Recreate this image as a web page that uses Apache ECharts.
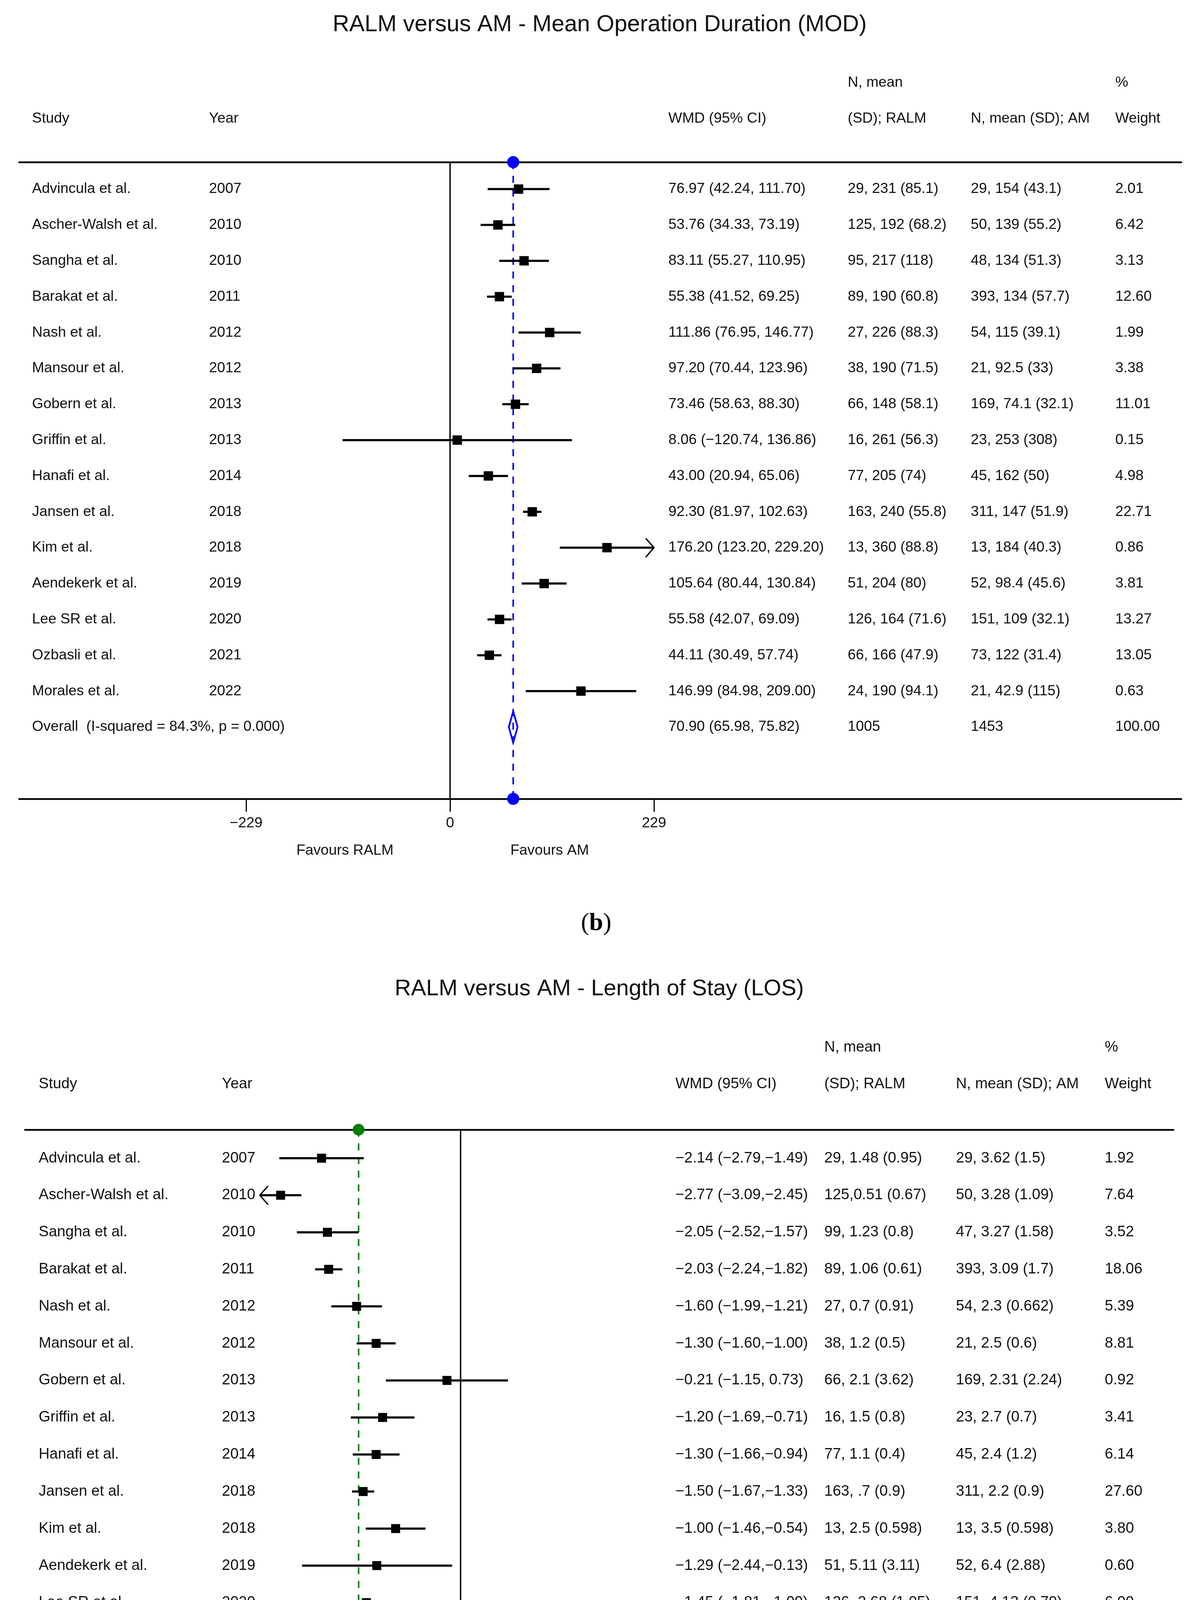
<!DOCTYPE html>
<html><head><meta charset="utf-8">
<script src="https://cdn.jsdelivr.net/npm/echarts@6/dist/echarts.min.js"></script>
<style>html,body{margin:0;padding:0;background:#fff}#c{width:3059px;height:4879px}</style>
</head><body><div id="c"></div>
<script>
// ---------- Panel (b): Mean Operation Duration ----------
const studiesB = ["Advincula et al.","Ascher-Walsh et al.","Sangha et al.","Barakat et al.","Nash et al.","Mansour et al.","Gobern et al.","Griffin et al.","Hanafi et al.","Jansen et al.","Kim et al.","Aendekerk et al.","Lee SR et al.","Ozbasli et al.","Morales et al."];
const yearsB = ["2007","2010","2010","2011","2012","2012","2013","2013","2014","2018","2018","2019","2020","2021","2022"];
const wmdB = [76.97,53.76,83.11,55.38,111.86,97.20,73.46,8.06,43.00,92.30,176.20,105.64,55.58,44.11,146.99];
const loB  = [42.24,34.33,55.27,41.52,76.95,70.44,58.63,-120.74,20.94,81.97,123.20,80.44,42.07,30.49,84.98];
const hiB  = [111.70,73.19,110.95,69.25,146.77,123.96,88.30,136.86,65.06,102.63,229.20,130.84,69.09,57.74,209.00];
const ralmB = ["29, 231 (85.1)","125, 192 (68.2)","95, 217 (118)","89, 190 (60.8)","27, 226 (88.3)","38, 190 (71.5)","66, 148 (58.1)","16, 261 (56.3)","77, 205 (74)","163, 240 (55.8)","13, 360 (88.8)","51, 204 (80)","126, 164 (71.6)","66, 166 (47.9)","24, 190 (94.1)"];
const amB = ["29, 154 (43.1)","50, 139 (55.2)","48, 134 (51.3)","393, 134 (57.7)","54, 115 (39.1)","21, 92.5 (33)","169, 74.1 (32.1)","23, 253 (308)","45, 162 (50)","311, 147 (51.9)","13, 184 (40.3)","52, 98.4 (45.6)","151, 109 (32.1)","73, 122 (31.4)","21, 42.9 (115)"];
const weightB = ["2.01","6.42","3.13","12.60","1.99","3.38","11.01","0.15","4.98","22.71","0.86","3.81","13.27","13.05","0.63"];
const overallB = [70.90, 65.98, 75.82];
const overallTextB = ["Overall  (I-squared = 84.3%, p = 0.000)", "1005", "1453", "100.00"];
const ticksB = [-229, 0, 229];
const tickLabelsB = ["\u2212229", "0", "229"];

// ---------- Panel (c): Length of Stay ----------
const studiesC = ["Advincula et al.","Ascher-Walsh et al.","Sangha et al.","Barakat et al.","Nash et al.","Mansour et al.","Gobern et al.","Griffin et al.","Hanafi et al.","Jansen et al.","Kim et al.","Aendekerk et al.","Lee SR et al.","Morales et al."];
const yearsC = ["2007","2010","2010","2011","2012","2012","2013","2013","2014","2018","2018","2019","2020","2022"];
const wmdC = [-2.14,-2.77,-2.05,-2.03,-1.60,-1.30,-0.21,-1.20,-1.30,-1.50,-1.00,-1.29,-1.45,-0.10];
const loC  = [-2.79,-3.09,-2.52,-2.24,-1.99,-1.60,-1.15,-1.69,-1.66,-1.67,-1.46,-2.44,-1.81,-0.46];
const hiC  = [-1.49,-2.45,-1.57,-1.82,-1.21,-1.00,0.73,-0.71,-0.94,-1.33,-0.54,-0.13,-1.09,0.26];
const ralmC = ["29, 1.48 (0.95)","125,0.51 (0.67)","99, 1.23 (0.8)","89, 1.06 (0.61)","27, 0.7 (0.91)","38, 1.2 (0.5)","66, 2.1 (3.62)","16, 1.5 (0.8)","77, 1.1 (0.4)","163, .7 (0.9)","13, 2.5 (0.598)","51, 5.11 (3.11)","126, 2.68 (1.95)","24, 2 (0.849)"];
const amC = ["29, 3.62 (1.5)","50, 3.28 (1.09)","47, 3.27 (1.58)","393, 3.09 (1.7)","54, 2.3 (0.662)","21, 2.5 (0.6)","169, 2.31 (2.24)","23, 2.7 (0.7)","45, 2.4 (1.2)","311, 2.2 (0.9)","13, 3.5 (0.598)","52, 6.4 (2.88)","151, 4.13 (0.79)","21, 2.1 (0.301)"];
const weightC = ["1.92","7.64","3.52","18.06","5.39","8.81","0.92","3.41","6.14","27.60","3.80","0.60","6.09","6.09"];
const overallC = [-1.57, -1.66, -1.48];
const overallTextC = ["Overall  (I-squared = 92.0%, p = 0.000)", "943", "1379", "100.00"];
const ticksC = [-3.09, 0, 3.09];
const tickLabelsC = ["\u22123.09", "0", "3.09"];

// ---------- helpers ----------
const FONT = '"Liberation Sans", Arial, Helvetica, sans-serif';
function num(v){ return (v < 0 ? '\u2212' : '') + Math.abs(v).toFixed(2); }
function ciB(e,l,h){ return num(e) + ' (' + num(l) + ', ' + num(h) + ')'; }
function ciC(e,l,h){ return num(e) + ' (' + num(l) + (h < 0 ? ',' : ', ') + num(h) + ')'; }

const panels = [
  {
    title: 'RALM versus AM - Mean Operation Duration (MOD)', titleX: 1535, titleY: 64, titleFs: 59,
    grid: {left: 49, top: 415, width: 2975, height: 1630},
    xMin: -483.9, xMax: 821.2, yMin: -0.752, yMax: 17.004,
    cols: [82, 535, 1711, 2170, 2485, 2855], fs: 37.3, hdr1Y: 212, hdr2Y: 304,
    labelMargin: 44, favY: 2178, favX: [883, 1407], foot: 'b', footY: 2364,
    color: '#0000ff', dotR: 15.5, sq: 24, dH: 40,
    studies: studiesB, years: yearsB, wmd: wmdB, lo: loB, hi: hiB, ralm: ralmB, am: amB, w: weightB,
    overall: overallB, overallText: overallTextB, ticks: ticksB, tickLabels: tickLabelsB, ci: ciB
  },
  {
    title: 'RALM versus AM - Length of Stay (LOS)', titleX: 1534, titleY: 2532, titleFs: 58,
    grid: {left: 64, top: 2892, width: 2940, height: 1590},
    xMin: -6.705, xMax: 10.974, yMin: -0.77, yMax: 16.0,
    cols: [99, 568, 1729, 2110, 2447, 2828], fs: 38.5, hdr1Y: 2681, hdr2Y: 2775,
    labelMargin: 46, favY: 4617, favX: [913, 1434], foot: 'c', footY: 4815,
    color: '#008000', dotR: 15, sq: 23, dH: 39,
    studies: studiesC, years: yearsC, wmd: wmdC, lo: loC, hi: hiC, ralm: ralmC, am: amC, w: weightC,
    overall: overallC, overallText: overallTextC, ticks: ticksC, tickLabels: tickLabelsC, ci: ciC
  }
];

const grids = [], xAxes = [], yAxes = [], series = [], graphics = [];

function txt(x, y, t, fs, align){
  return {type: 'text', x: x, y: y, silent: true,
    style: {text: t, fontFamily: FONT, fontSize: fs, fill: '#111', align: align || 'left', verticalAlign: 'middle'}};
}

panels.forEach((P, g) => {
  grids.push(Object.assign({}, P.grid));
  const lim = P.ticks[P.ticks.length - 1];
  xAxes.push({
    gridIndex: g, type: 'value', min: P.xMin, max: P.xMax, position: 'bottom',
    axisLine: {show: true, onZero: false, lineStyle: {color: '#000', width: 4.5}},
    axisTick: {show: true, customValues: P.ticks, length: 33, inside: false, lineStyle: {color: '#000', width: 3}},
    axisLabel: {show: true, customValues: P.ticks, margin: P.labelMargin, fontSize: P.fs, fontFamily: FONT, color: '#111',
      formatter: v => { const i = P.ticks.findIndex(t => Math.abs(t - v) < 1e-9); return i >= 0 ? P.tickLabels[i] : ''; }},
    splitLine: {show: false}
  });
  xAxes.push({
    gridIndex: g, type: 'value', min: P.xMin, max: P.xMax, position: 'top',
    axisLine: {show: true, onZero: false, lineStyle: {color: '#000', width: 4.5}},
    axisTick: {show: false}, axisLabel: {show: false}, splitLine: {show: false}
  });
  yAxes.push({gridIndex: g, type: 'value', min: P.yMin, max: P.yMax, inverse: true, show: false,
    axisLine: {show: false}, splitLine: {show: false}});
  const xi = g * 2, yi = g;
  const nStudies = P.studies.length;

  // reference lines: null line and dashed overall line
  series.push({
    type: 'custom', xAxisIndex: xi, yAxisIndex: yi, silent: true, clip: false, z: 2,
    data: [[0, P.overall[0]]],
    renderItem: (params, api) => {
      const cs = params.coordSys;
      const x0 = api.coord([api.value(0), 0])[0];
      const xo = api.coord([api.value(1), 0])[0];
      return {type: 'group', children: [
        {type: 'line', shape: {x1: x0, y1: cs.y, x2: x0, y2: cs.y + cs.height}, style: {stroke: '#000', lineWidth: 3.5}},
        {type: 'line', shape: {x1: xo, y1: cs.y, x2: xo, y2: cs.y + cs.height}, style: {stroke: P.color, lineWidth: 4, lineDash: [18, 17]}}
      ]};
    }
  });

  // studies: CI lines, squares, arrows
  series.push({
    type: 'custom', xAxisIndex: xi, yAxisIndex: yi, silent: true, clip: false, z: 3,
    data: P.studies.map((s, i) => [i, P.wmd[i], P.lo[i], P.hi[i]]),
    renderItem: (params, api) => {
      const row = api.value(0), est = api.value(1), lo = api.value(2), hi = api.value(3);
      const lc = Math.max(lo, -lim), hc = Math.min(hi, lim);
      const p1 = api.coord([lc, row]), p2 = api.coord([hc, row]), pe = api.coord([est, row]);
      const h = P.sq / 2;
      const ch = [
        {type: 'line', shape: {x1: p1[0], y1: p1[1], x2: p2[0], y2: p2[1]}, style: {stroke: '#000', lineWidth: 5.5}},
        {type: 'rect', shape: {x: pe[0] - h, y: pe[1] - h, width: P.sq, height: P.sq}, style: {fill: '#000'}}
      ];
      if (hi > lim) ch.push({type: 'polyline', shape: {points: [[p2[0] - 21, p2[1] - 24], [p2[0], p2[1]], [p2[0] - 21, p2[1] + 24]]}, style: {stroke: '#000', lineWidth: 3.5, fill: 'none'}});
      if (lo <= -lim) ch.push({type: 'polyline', shape: {points: [[p1[0] + 21, p1[1] - 24], [p1[0], p1[1]], [p1[0] + 21, p1[1] + 24]]}, style: {stroke: '#000', lineWidth: 3.5, fill: 'none'}});
      return {type: 'group', children: ch};
    }
  });

  // overall diamond and end dots
  series.push({
    type: 'custom', xAxisIndex: xi, yAxisIndex: yi, silent: true, clip: false, z: 4,
    data: [[nStudies, P.overall[0], P.overall[1], P.overall[2]]],
    renderItem: (params, api) => {
      const cs = params.coordSys;
      const row = api.value(0);
      const pe = api.coord([api.value(1), row]), pl = api.coord([api.value(2), row]), ph = api.coord([api.value(3), row]);
      return {type: 'group', children: [
        {type: 'polygon', shape: {points: [[pl[0], pe[1]], [pe[0], pe[1] - P.dH], [ph[0], pe[1]], [pe[0], pe[1] + P.dH]]},
          style: {fill: 'none', stroke: P.color, lineWidth: 4.5}},
        {type: 'circle', shape: {cx: pe[0], cy: cs.y, r: P.dotR}, style: {fill: P.color}},
        {type: 'circle', shape: {cx: pe[0], cy: cs.y + cs.height, r: P.dotR}, style: {fill: P.color}}
      ]};
    }
  });

  // table text per row
  const rows = P.studies.map((s, i) => [s, P.years[i], P.ci(P.wmd[i], P.lo[i], P.hi[i]), P.ralm[i], P.am[i], P.w[i]]);
  rows.push([P.overallText[0], '', P.ci(P.overall[0], P.overall[1], P.overall[2]), P.overallText[1], P.overallText[2], P.overallText[3]]);
  series.push({
    type: 'custom', xAxisIndex: xi, yAxisIndex: yi, silent: true, clip: false, z: 5,
    data: rows.map((r, i) => [0, i]),
    renderItem: (params, api) => {
      const i = params.dataIndex;
      const y = api.coord([0, api.value(1)])[1];
      const ch = [];
      rows[i].forEach((t, k) => { if (t !== '') ch.push(txt(P.cols[k], y, t, P.fs)); });
      return {type: 'group', children: ch};
    }
  });

  // headers, title, favours, footer
  graphics.push(txt(P.titleX, P.titleY, P.title, P.titleFs, 'center'));
  graphics.push(txt(P.cols[3], P.hdr1Y, 'N, mean', P.fs));
  graphics.push(txt(P.cols[5], P.hdr1Y, '%', P.fs));
  ['Study', 'Year', 'WMD (95% CI)', '(SD); RALM', 'N, mean (SD); AM', 'Weight'].forEach((t, k) => graphics.push(txt(P.cols[k], P.hdr2Y, t, P.fs)));
  graphics.push(txt(P.favX[0], P.favY, 'Favours RALM', P.fs, 'center'));
  graphics.push(txt(P.favX[1], P.favY, 'Favours AM', P.fs, 'center'));
  graphics.push({type: 'text', x: 1526, y: P.footY, silent: true,
    style: {text: '{n|(}{b|' + P.foot + '}{n|)}', align: 'center', verticalAlign: 'middle',
      rich: {n: {fontFamily: '"Liberation Serif", "DejaVu Serif", serif', fontSize: 64, fill: '#000'},
             b: {fontFamily: '"Liberation Serif", "DejaVu Serif", serif', fontSize: 64, fontWeight: 'bold', fill: '#000'}}}});
});

const chart = echarts.init(document.getElementById('c'), null, {renderer: 'canvas', width: 3059, height: 4879});
chart.setOption({
  backgroundColor: '#fff',
  animation: false,
  grid: grids, xAxis: xAxes, yAxis: yAxes, series: series,
  graphic: graphics
});
</script>
</body></html>
